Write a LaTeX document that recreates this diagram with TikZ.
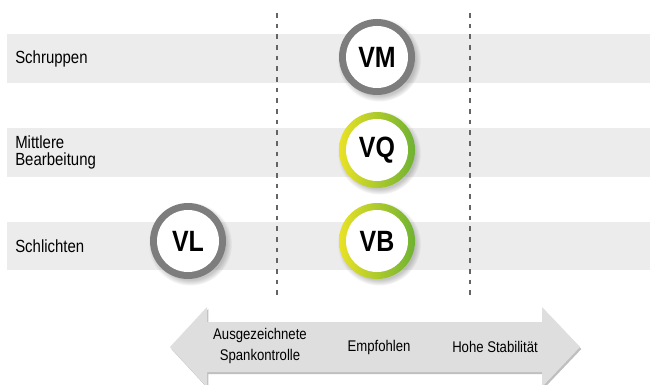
\documentclass[tikz,border=0pt]{standalone}
\usepackage{fontspec}
\setmainfont[FakeStretch=0.85]{Liberation Sans}
\usetikzlibrary{positioning,shadows}
\definecolor{bandgray}{RGB}{236,236,236}
\definecolor{ringgray}{RGB}{125,125,125}
\definecolor{arrowgray}{RGB}{222,222,222}
\definecolor{ringyellow}{RGB}{234,226,38}
\definecolor{ringgreen}{RGB}{110,178,50}
\definecolor{dashgray}{RGB}{100,100,100}

\begin{document}
\begin{tikzpicture}[x=0.75pt, y=-0.75pt,
    band/.style={fill=bandgray, draw=none},
    rowlabel/.style={anchor=west, align=left, inner sep=0pt, font=\fontsize{13.2}{13.3}\selectfont},
    arrowlabel/.style={align=center, inner sep=0pt, font=\fontsize{11.6}{16}\selectfont},
    sepline/.style={draw=dashgray, line width=1.1pt, dash pattern=on 3.5pt off 4.5pt},
    tool/.style={circle, minimum size=57pt, inner sep=0pt, font=\bfseries\fontsize{22}{22}\selectfont,
      circular drop shadow={shadow xshift=1.5pt, shadow yshift=-2pt, opacity=0.45},
      path picture={\fill[white] (path picture bounding box.center) circle[radius=23.25pt];}},
    grayring/.style={tool, fill=ringgray},
    greenring/.style={tool, left color=ringyellow, right color=ringgreen}
  ]
    \useasboundingbox (0,0) rectangle (650,385);

    % rows
    \fill[band] (7,34) rectangle (650,83);
    \fill[band] (7,128) rectangle (650,177);
    \fill[band] (7,222) rectangle (650,270);
    \node[rowlabel] (schruppen) at (15,58.5) {Schruppen};
    \node[rowlabel] (mittlere) at (15,152.5) {Mittlere\\Bearbeitung};
    \node[rowlabel] (schlichten) at (15,246) {Schlichten};

    % separators
    \coordinate (s1top) at (277,13);
    \coordinate (s1bot) at (277,300);
    \coordinate (s2top) at (470,13);
    \coordinate (s2bot) at (470,300);
    \draw[sepline] (s1top) -- (s1bot);
    \draw[sepline] (s2top) -- (s2bot);

    % grades
    \node[grayring] (vm) at (377,57) {VM};
    \node[greenring] (vq) at (377,150) {VQ};
    \node[greenring] (vb) at (377,241) {VB};
    \node[grayring] (vl) at (188,241) {VL};

    % scale arrow
    \fill[arrowgray, drop shadow={shadow xshift=1pt, shadow yshift=-1.5pt, opacity=0.5}]
      (170,347) -- (207,307) -- (207,322) -- (542,322) -- (542,307) -- (580,347)
      -- (542,387) -- (542,372) -- (207,372) -- (207,387) -- cycle;
    \node[arrowlabel] (spank) at (260,346) {Ausgezeichnete\\Spankontrolle};
    \node[arrowlabel] (empf) at (379,347) {Empfohlen};
    \node[arrowlabel] (stab) at (495,347) {Hohe Stabilität};
\end{tikzpicture}
\end{document}
